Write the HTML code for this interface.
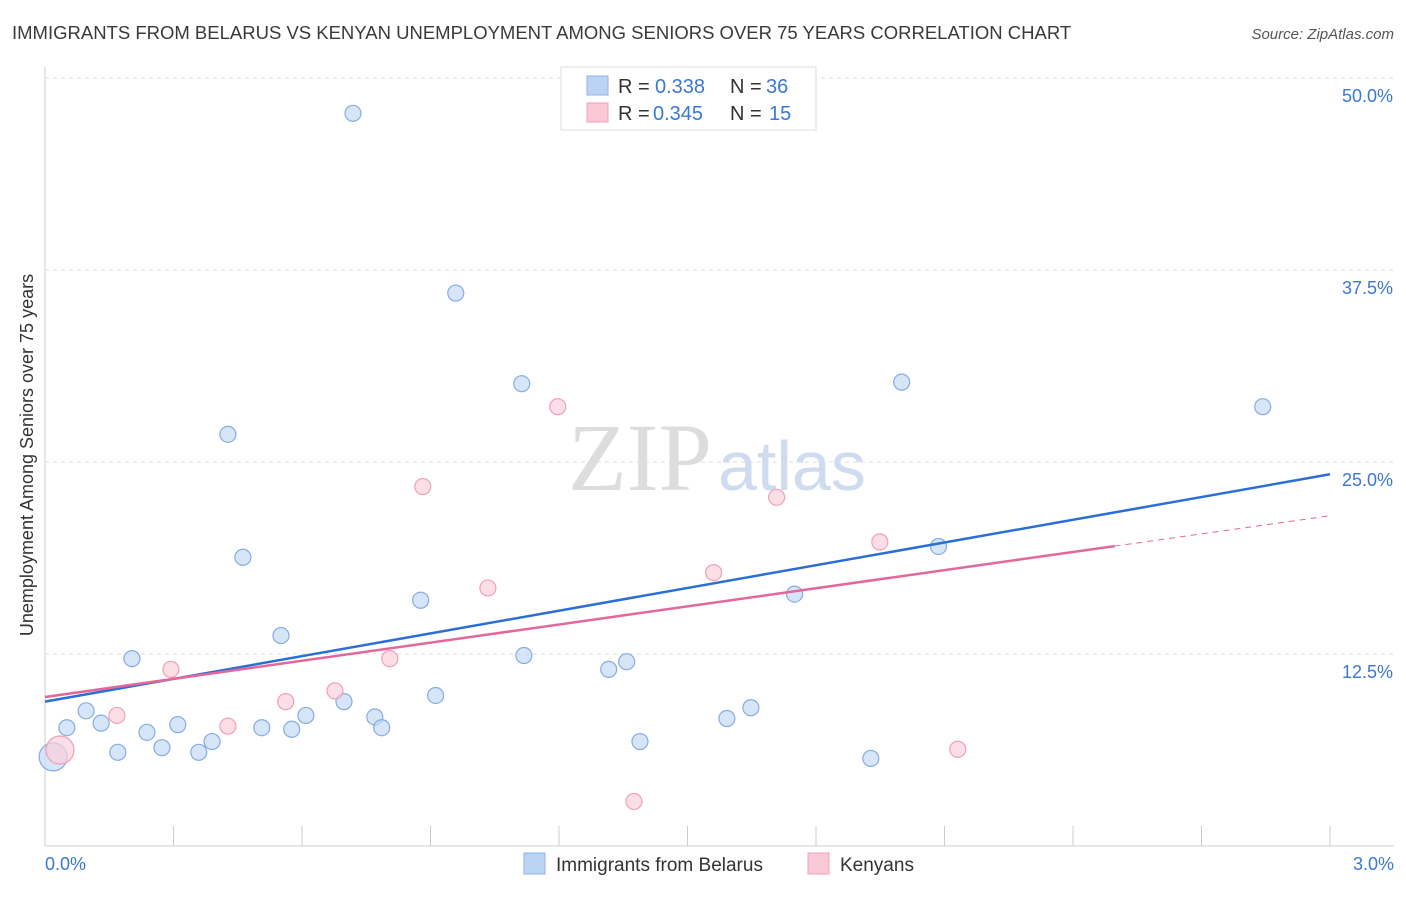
<!DOCTYPE html>
<html><head><meta charset="utf-8"><style>
body{margin:0;background:#fff;font-family:"Liberation Sans",sans-serif;}
svg text{font-family:"Liberation Sans",sans-serif;}
</style></head><body>
<svg id="chart" width="1406" height="892" xmlns="http://www.w3.org/2000/svg">
<text x="12" y="39" font-size="18.5" fill="#3a3a3a">IMMIGRANTS FROM BELARUS VS KENYAN UNEMPLOYMENT AMONG SENIORS OVER 75 YEARS CORRELATION CHART</text>
<text x="1394" y="39" font-size="15" fill="#555" font-style="italic" text-anchor="end">Source: ZipAtlas.com</text>
<g id="grid"></g>
<text x="712" y="490" font-size="96" fill="#ddd" text-anchor="end" style="font-family:'Liberation Serif',serif">ZIP</text>
<text x="718" y="490" font-size="70" fill="#cfdcf0">atlas</text>
<g id="marks"></g>
<text x="33" y="455" font-size="18" fill="#333" text-anchor="middle" transform="rotate(-90 33 455)">Unemployment Among Seniors over 75 years</text>
<text x="45" y="870" font-size="18" fill="#3a78d4">0.0%</text>
<text x="1394" y="870" font-size="18" fill="#3a78d4" text-anchor="end">3.0%</text>
<g>
<rect x="561" y="67" width="255" height="63" fill="#fff" stroke="#ddd"/>
<rect x="587" y="76" width="21" height="19" fill="#bcd4f4" stroke="#8fb3e6"/>
<rect x="587" y="103" width="21" height="19" fill="#fac8d6" stroke="#eea1b7"/>
<text x="618" y="93" font-size="20" fill="#333">R =</text>
<text x="655" y="93" font-size="20" fill="#3a78d4">0.338</text>
<text x="730" y="93" font-size="20" fill="#333">N =</text>
<text x="766" y="93" font-size="20" fill="#3a78d4">36</text>
<text x="618" y="120" font-size="20" fill="#333">R =</text>
<text x="653" y="120" font-size="20" fill="#3a78d4">0.345</text>
<text x="730" y="120" font-size="20" fill="#333">N =</text>
<text x="769" y="120" font-size="20" fill="#3a78d4">15</text>
</g>
<g>
<rect x="524" y="853" width="21" height="21" fill="#bcd4f4" stroke="#8fb3e6"/>
<text x="556" y="871" font-size="19" fill="#333">Immigrants from Belarus</text>
<rect x="808" y="853" width="21" height="21" fill="#fac8d6" stroke="#eea1b7"/>
<text x="840" y="871" font-size="19" fill="#333">Kenyans</text>
</g>
</svg>
<script>
const yTicks=[12.5,25,37.5,50];
const yTickLabels=["12.5%","25.0%","37.5%","50.0%"];
const xTicks=[0,0.3,0.6,0.9,1.2,1.5,1.8,2.1,2.4,2.7,3.0];
const blueX=[0.019,0.051,0.096,0.131,0.170,0.203,0.238,0.273,0.310,0.359,0.390,0.427,0.462,0.506,0.551,0.576,0.609,0.698,0.719,0.770,0.786,0.877,0.912,0.959,1.113,1.118,1.316,1.358,1.389,1.592,1.648,1.750,1.928,2.000,2.086,2.843];
const blueY=[5.8,7.7,8.8,8.0,6.1,12.2,7.4,6.4,7.9,6.1,6.8,26.8,18.8,7.7,13.7,7.6,8.5,9.4,47.7,8.4,7.7,16.0,9.8,36.0,30.1,12.4,11.5,12.0,6.8,8.3,9.0,16.4,5.7,30.2,19.5,28.6];
const pinkX=[0.035,0.168,0.294,0.427,0.562,0.677,0.805,0.882,1.034,1.197,1.375,1.561,1.708,1.949,2.131];
const pinkY=[6.25,8.5,11.5,7.8,9.4,10.1,12.2,23.4,16.8,28.6,2.9,17.8,22.7,19.8,6.3];
const blueTrend=[9.4,24.2];
const pinkTrend=[9.7,21.5];
const pinkSolidEnd=2.497;
const NS="http://www.w3.org/2000/svg";
const X=v=>45+v/3*1285, Y=v=>846-v*15.36;
function mk(tag,attrs,parent){const e=document.createElementNS(NS,tag);for(const k in attrs)e.setAttribute(k,attrs[k]);parent.appendChild(e);return e;}
const gridG=document.getElementById('grid'),marksG=document.getElementById('marks');
const axY=mk('line',{x1:45,y1:67,x2:45,y2:846,stroke:'#ccc'},gridG);


const axX=mk('line',{x1:45,y1:846,x2:1394,y2:846,stroke:'#ccc'},gridG);


yTicks.forEach((t,i)=>{
 const g=mk('line',{x1:45,y1:Y(t),x2:1394,y2:Y(t),stroke:'#ddd','stroke-dasharray':'4,4'},gridG);
 
 
 const tx=mk('text',{x:1393,y:Y(t)+24,'font-size':18,fill:'#3a78d4','text-anchor':'end'},gridG);
 tx.textContent=yTickLabels[i];
 
 
});
xTicks.forEach(t=>{
 const l=mk('line',{x1:X(t),y1:826,x2:X(t),y2:846,stroke:'#ccc'},gridG);
 
 
});
function dots(xs,ys,fill,stroke,name){
 xs.forEach((x,i)=>{
  const r=i===0?14:8;
  const c=mk('circle',{cx:X(x),cy:Y(ys[i]),r:r,fill:fill,stroke:stroke,'stroke-width':1.2,'fill-opacity':0.7},marksG);
  
  
 });
}
dots(blueX,blueY,'#c5daf5','#86ace0','point-belarus');
dots(pinkX,pinkY,'#fbd0dc','#eea1b7','point-kenyans');
const bl=mk('line',{x1:X(0),y1:Y(blueTrend[0]),x2:X(3),y2:Y(blueTrend[1]),stroke:'#2a6fd6','stroke-width':2.5},marksG);


const py=x=>pinkTrend[0]+(pinkTrend[1]-pinkTrend[0])*x/3;
const pl=mk('line',{x1:X(0),y1:Y(py(0)),x2:X(pinkSolidEnd),y2:Y(py(pinkSolidEnd)),stroke:'#e4679a','stroke-width':2.5},marksG);


const pd=mk('line',{x1:X(pinkSolidEnd),y1:Y(py(pinkSolidEnd)),x2:X(3),y2:Y(py(3)),stroke:'#e4679a','stroke-width':1,'stroke-dasharray':'6,5'},marksG);


</script>
</body></html>
